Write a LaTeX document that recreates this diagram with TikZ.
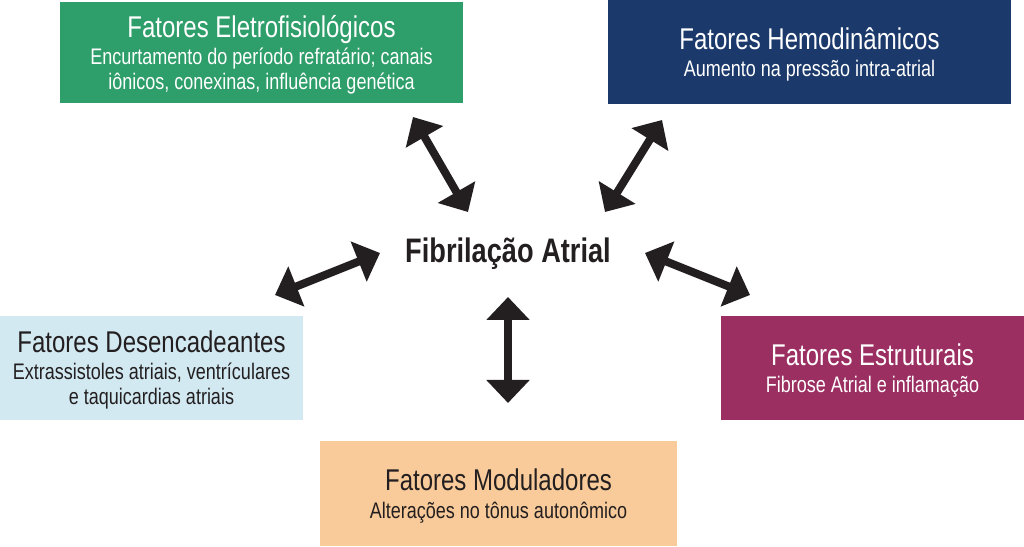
\documentclass[tikz,border=0pt]{standalone}
\usepackage{fontspec}
\setmainfont{Liberation Sans}[FakeStretch=0.8]
\usetikzlibrary{arrows.meta}
\definecolor{verde}{RGB}{46,158,106}
\definecolor{marinho}{RGB}{27,57,106}
\definecolor{azulclaro}{RGB}{210,233,242}
\definecolor{vinho}{RGB}{155,47,98}
\definecolor{laranja}{RGB}{249,203,154}
\definecolor{quasepreto}{RGB}{35,31,32}
\newcommand\titulo{\fontsize{30}{30}\selectfont}
\newcommand\subtitulo{\fontsize{22.5}{25}\selectfont}
\tikzset{
	fator/.style={inner sep=0pt, align=center, text=white, font=\subtitulo, text depth=0pt},
	seta/.style={line width=8pt, color=quasepreto,
		{Triangle[length=23pt,width=42pt]}-{Triangle[length=23pt,width=42pt]}}
}

\begin{document}
\begin{tikzpicture}[x=1pt, y=1pt]
			%%%%% START %%%%%
			
			\useasboundingbox (0, 0) rectangle (1024, 546);
			
			\node[fator, fill=verde, minimum width=403, minimum height=101] (eletro) at (261.5, 493.5)
				{{\titulo Fatores Eletrofisiológicos}\\[2pt]Encurtamento do período refratário; canais\\iônicos, conexinas, influência genética};
			\node[fator, fill=marinho, minimum width=403, minimum height=104] (hemo) at (809.5, 494)
				{{\titulo Fatores Hemodinâmicos}\\[2pt]Aumento na pressão intra-atrial};
			
			\node[fator, fill=azulclaro, text=quasepreto, minimum width=303, minimum height=104] (desenc) at (151.5, 178)
				{{\titulo Fatores Desencadeantes}\\[2pt]Extrassistoles atriais, ventrículares\\e taquicardias atriais};
			\node[fator, fill=vinho, minimum width=303, minimum height=104] (estrut) at (872.5, 178)
				{{\titulo Fatores Estruturais}\\[2pt]Fibrose Atrial e inflamação};
			
			\node[fator, fill=laranja, text=quasepreto, minimum width=357, minimum height=105] (modul) at (498.5, 52.5)
				{{\titulo Fatores Moduladores}\\[3pt]Alterações no tônus autonômico};
			
			\node[anchor=base, text=quasepreto, font=\fontsize{34}{34}\selectfont\bfseries] (fa) at (508, 283) {Fibrilação Atrial};
			
			\coordinate (eletro1) at (413, 429);
			\coordinate (eletro2) at (468, 334);
			\coordinate (hemo1) at (662, 426);
			\coordinate (hemo2) at (605, 334);
			\coordinate (desenc1) at (275, 251);
			\coordinate (desenc2) at (380, 293);
			\coordinate (estrut1) at (750, 251);
			\coordinate (estrut2) at (645, 293);
			\coordinate (modul1) at (508, 143);
			\coordinate (modul2) at (508, 249);
			
			\draw[seta] (eletro1) -- (eletro2);
			\draw[seta] (hemo1) -- (hemo2);
			\draw[seta] (desenc1) -- (desenc2);
			\draw[seta] (estrut1) -- (estrut2);
			\draw[seta] (modul1) -- (modul2);
			
			%%%%% END %%%%%
\end{tikzpicture}
\end{document}
